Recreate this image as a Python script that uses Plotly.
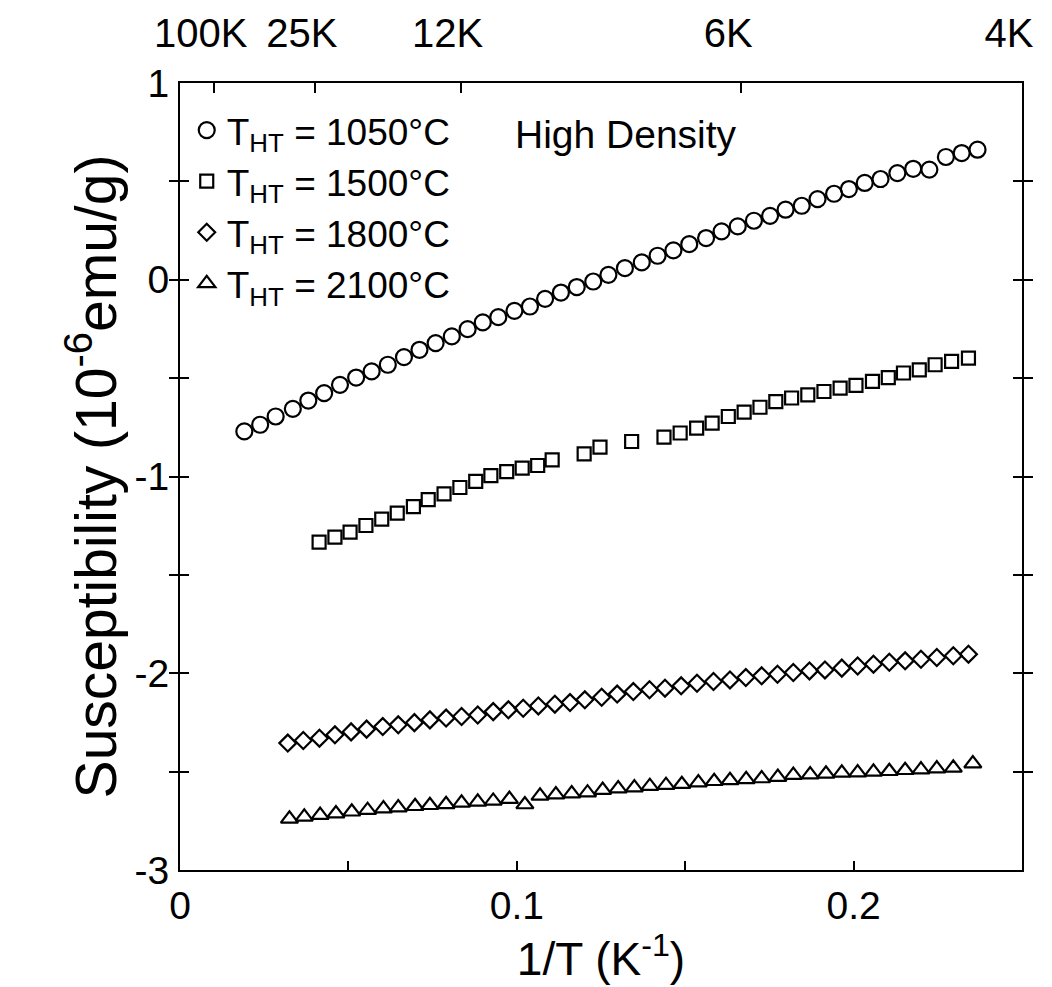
import plotly.graph_objects as go

# Magnetic susceptibility vs inverse temperature, high-density samples,
# for four heat-treatment temperatures.
inv_T_1050 = [0.0191, 0.0238, 0.0284, 0.0335, 0.0381, 0.0428, 0.0475, 0.0523,
              0.0569, 0.0617, 0.0665, 0.0711, 0.0759, 0.0807, 0.0854, 0.0899,
              0.0945, 0.0993, 0.1039, 0.1084, 0.1131, 0.1178, 0.1227, 0.1272,
              0.1321, 0.1371, 0.1418, 0.1465, 0.1512, 0.1562, 0.1608, 0.1656,
              0.1704, 0.1752, 0.1798, 0.1846, 0.1893, 0.1942, 0.1986, 0.2033,
              0.2080, 0.2130, 0.2177, 0.2225, 0.2274, 0.2321, 0.2368]
chi_1050 = [-0.771, -0.737, -0.695, -0.656, -0.614, -0.576, -0.534, -0.497,
            -0.466, -0.432, -0.393, -0.356, -0.322, -0.288, -0.251, -0.217,
            -0.190, -0.158, -0.136, -0.097, -0.065, -0.037, -0.009, 0.025,
            0.059, 0.088, 0.122, 0.149, 0.181, 0.212, 0.246, 0.271,
            0.300, 0.325, 0.356, 0.376, 0.410, 0.437, 0.461, 0.492,
            0.512, 0.542, 0.564, 0.560, 0.624, 0.644, 0.661]

inv_T_1500 = [0.0413, 0.0460, 0.0505, 0.0552, 0.0599, 0.0645, 0.0693, 0.0737,
              0.0784, 0.0831, 0.0878, 0.0923, 0.0970, 0.1016, 0.1062, 0.1105,
              0.1200, 0.1247, 0.1341, 0.1437, 0.1485, 0.1534, 0.1580, 0.1628,
              0.1675, 0.1722, 0.1769, 0.1816, 0.1864, 0.1912, 0.1960, 0.2007,
              0.2056, 0.2103, 0.2148, 0.2195, 0.2242, 0.2291, 0.2341]
chi_1500 = [-1.334, -1.308, -1.283, -1.249, -1.217, -1.186, -1.153, -1.118,
            -1.088, -1.056, -1.025, -0.996, -0.975, -0.957, -0.944, -0.915,
            -0.885, -0.851, -0.822, -0.800, -0.779, -0.754, -0.729, -0.695,
            -0.673, -0.648, -0.619, -0.601, -0.585, -0.568, -0.551, -0.537,
            -0.517, -0.497, -0.474, -0.458, -0.432, -0.415, -0.398]

inv_T_1800 = [0.0320, 0.0366, 0.0414, 0.0460, 0.0508, 0.0554, 0.0602, 0.0648,
              0.0696, 0.0742, 0.0790, 0.0836, 0.0884, 0.0930, 0.0975, 0.1019,
              0.1064, 0.1113, 0.1158, 0.1202, 0.1252, 0.1298, 0.1346, 0.1394,
              0.1440, 0.1488, 0.1535, 0.1584, 0.1633, 0.1680, 0.1727, 0.1774,
              0.1821, 0.1869, 0.1915, 0.1965, 0.2012, 0.2059, 0.2106, 0.2153,
              0.2200, 0.2247, 0.2296, 0.2341]
chi_1800 = [-2.355, -2.342, -2.330, -2.313, -2.298, -2.284, -2.271, -2.262,
            -2.251, -2.237, -2.228, -2.220, -2.212, -2.195, -2.186, -2.178,
            -2.166, -2.157, -2.149, -2.135, -2.122, -2.106, -2.093, -2.084,
            -2.076, -2.064, -2.051, -2.042, -2.034, -2.022, -2.013, -2.005,
            -1.996, -1.988, -1.983, -1.974, -1.963, -1.954, -1.944, -1.937,
            -1.929, -1.920, -1.911, -1.903]

inv_T_2100 = [0.0325, 0.0369, 0.0416, 0.0463, 0.0510, 0.0557, 0.0604, 0.0648,
              0.0698, 0.0742, 0.0790, 0.0836, 0.0884, 0.0930, 0.0978, 0.1024,
              0.1069, 0.1116, 0.1163, 0.1210, 0.1255, 0.1301, 0.1349, 0.1395,
              0.1443, 0.1490, 0.1539, 0.1586, 0.1633, 0.1681, 0.1727, 0.1775,
              0.1821, 0.1871, 0.1918, 0.1965, 0.2012, 0.2059, 0.2106, 0.2153,
              0.2200, 0.2247, 0.2296, 0.2354]
chi_2100 = [-2.740, -2.730, -2.721, -2.713, -2.704, -2.696, -2.688, -2.683,
            -2.676, -2.671, -2.666, -2.659, -2.654, -2.649, -2.640, -2.667,
            -2.623, -2.617, -2.612, -2.607, -2.594, -2.586, -2.581, -2.574,
            -2.569, -2.564, -2.556, -2.549, -2.544, -2.539, -2.535, -2.528,
            -2.518, -2.515, -2.511, -2.506, -2.505, -2.501, -2.498, -2.493,
            -2.490, -2.485, -2.481, -2.459]

series_names = ["T<sub>HT</sub> = 1050°C", "T<sub>HT</sub> = 1500°C",
                "T<sub>HT</sub> = 1800°C", "T<sub>HT</sub> = 2100°C"]

# Upper axis: temperatures marked at their inverse positions
temp_labels_K = [100, 25, 12, 6, 4]

x_tick_vals = [0, 0.05, 0.1, 0.15, 0.2]
x_tick_text = ["0", "", "0.1", "", "0.2"]
y_tick_vals = [-3, -2.5, -2, -1.5, -1, -0.5, 0, 0.5, 1]
y_tick_text = ["-3", "", "-2", "", "-1", "", "0", "", "1"]

FONT = "Liberation Sans, Arial, Helvetica, sans-serif"
INK = "black"

fig = go.Figure()

styles = [
    dict(symbol="circle-open", size=16),
    dict(symbol="square-open", size=13),
    dict(symbol="diamond-open", size=13),
    dict(symbol="triangle-up-open", size=15),
]
data = [(inv_T_1050, chi_1050), (inv_T_1500, chi_1500),
        (inv_T_1800, chi_1800), (inv_T_2100, chi_2100)]

for (xs, ys), name, st in zip(data, series_names, styles):
    fig.add_trace(go.Scatter(
        x=xs, y=ys, mode="markers", name=name,
        marker=dict(symbol=st["symbol"], size=st["size"], color=INK,
                    line=dict(color=INK, width=2.2)),
    ))

# Empty trace to anchor the temperature axis on top
fig.add_trace(go.Scatter(x=[], y=[], xaxis="x2", showlegend=False))

fig.update_layout(
    width=1052, height=987,
    margin=dict(l=180, r=30, t=83, b=117, autoexpand=False),
    paper_bgcolor="white", plot_bgcolor="white",
    font=dict(family=FONT, color=INK, size=38),
    showlegend=True,
    legend=dict(
        x=0.008, y=0.979, xanchor="left", yanchor="top",
        bgcolor="rgba(0,0,0,0)", borderwidth=0,
        font=dict(family=FONT, size=37, color=INK),
        itemsizing="trace", tracegroupgap=0,
    ),
    xaxis=dict(
        range=[0, 0.25], tickmode="array",
        tickvals=x_tick_vals, ticktext=x_tick_text,
        ticks="inside", ticklen=9, tickwidth=2, tickcolor=INK,
        showline=True, linewidth=2, linecolor=INK, mirror=True,
        showgrid=False, zeroline=False,
        tickfont=dict(family=FONT, size=39),
        ticklabelstandoff=0,
        title=dict(text="1/T (K<sup>-1</sup>)", font=dict(family=FONT, size=46),
                   standoff=0),
        automargin=False,
    ),
    xaxis2=dict(
        range=[0, 0.25], overlaying="x", side="top", tickmode="array",
        tickvals=[1.0 / t for t in temp_labels_K],
        ticktext=[f"{t}K" for t in temp_labels_K],
        ticks="inside", ticklen=10, tickwidth=2, tickcolor=INK,
        showline=False, showgrid=False, zeroline=False,
        tickfont=dict(family=FONT, size=40),
        ticklabelstandoff=27, ticklabelshift=-13,
        automargin=False,
    ),
    yaxis=dict(
        range=[-3, 1], tickmode="array",
        tickvals=y_tick_vals, ticktext=y_tick_text,
        ticks="inside", ticklen=9, tickwidth=2, tickcolor=INK,
        showline=True, linewidth=2, linecolor=INK, mirror="allticks",
        showgrid=False, zeroline=False,
        tickfont=dict(family=FONT, size=39),
        ticklabelstandoff=1,
        title=dict(text="Susceptibility (10<sup>-6</sup>emu/g)",
                   font=dict(family=FONT, size=57), standoff=0),
        automargin=False,
    ),
    annotations=[
        dict(text="High Density", xref="paper", yref="paper",
             x=0.395, y=0.935, xanchor="left", yanchor="middle",
             showarrow=False, font=dict(family=FONT, size=39, color=INK)),
    ],
)

fig.write_html("out.html")
